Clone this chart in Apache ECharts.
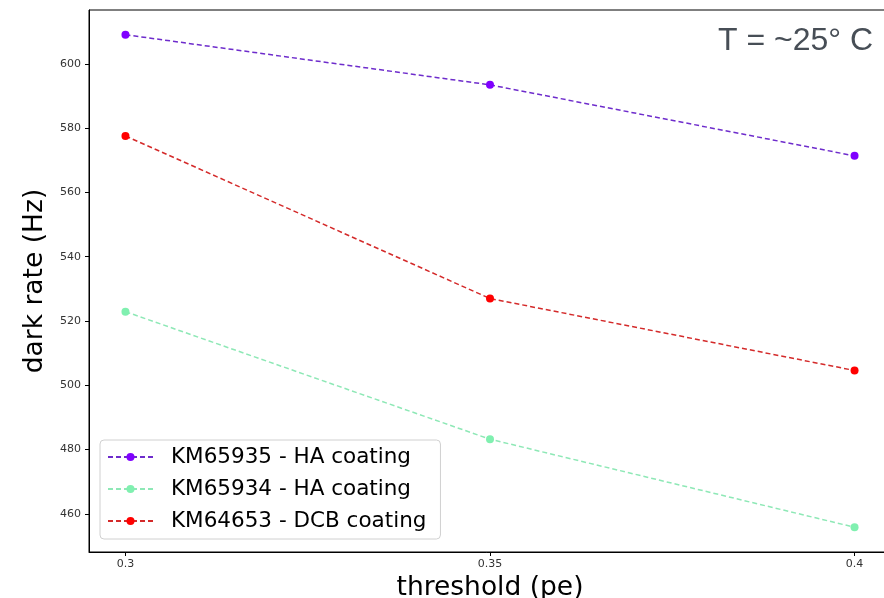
<!DOCTYPE html>
<html><head><meta charset="utf-8">
<script src="https://cdn.jsdelivr.net/npm/echarts@6/dist/echarts.min.js"></script>
<style>html,body{margin:0;padding:0;background:#fff}#c{width:884px;height:598px}</style>
</head><body><div id="c"></div>
<script>
var thresholds = [0.3, 0.35, 0.4];
var xTicks = [0.3, 0.35, 0.4];
var yTicks = [460, 480, 500, 520, 540, 560, 580, 600];
var seriesNames = ['KM65935 - HA coating', 'KM65934 - HA coating', 'KM64653 - DCB coating'];
var km65935 = [609.1, 593.5, 571.4];
var km65934 = [522.9, 483.2, 455.8];
var km64653 = [577.6, 527.0, 504.6];
var colors = ['#8000ff', '#80f0b0', '#ff0000'];
var lineColors = ['#6e2ccc', '#8ee8b6', '#d42a2a'];

var data = [km65935, km65934, km64653];
var chart = echarts.init(document.getElementById('c'));
var F = 'DejaVu Sans';
chart.setOption({
  animation: false,
  grid: {left: 89, top: 10, width: 802, height: 542, outerBoundsMode: 'none', containLabel: false,
         show: true, borderColor: '#000', borderWidth: 1},
  xAxis: {
    type: 'value', min: 0.295, max: 0.405,
    name: 'threshold (pe)', nameLocation: 'middle', nameGap: 18,
    nameTextStyle: {fontFamily: F, fontSize: 26.5, color: '#000', verticalAlign: 'top'},
    axisLine: {show: true, onZero: false, lineStyle: {color: '#000'}},
    axisTick: {show: true, length: 4, customValues: xTicks, lineStyle: {color: '#000'}},
    axisLabel: {customValues: xTicks, fontFamily: F, fontSize: 11, color: '#333', margin: 7},
    splitLine: {show: false}
  },
  yAxis: {
    type: 'value', min: 448.1, max: 616.8,
    name: 'dark rate (Hz)', nameLocation: 'middle', nameGap: 33,
    nameTextStyle: {fontFamily: F, fontSize: 26.5, color: '#000'},
    axisLine: {show: true, onZero: false, lineStyle: {color: '#000'}},
    axisTick: {show: true, length: 4, customValues: yTicks, lineStyle: {color: '#000'}},
    axisLabel: {customValues: yTicks, fontFamily: F, fontSize: 11, color: '#333', margin: 8},
    splitLine: {show: false}
  },
  legend: {
    left: 100, top: 440, orient: 'vertical', itemGap: 8, itemWidth: 45, itemHeight: 10,
    padding: [5, 14, 6, 7],
    backgroundColor: '#fff', borderColor: '#d0d0d0', borderWidth: 1, borderRadius: 4,
    textStyle: {fontFamily: F, fontSize: 21.5, lineHeight: 24, color: '#000', padding: [0, 0, 0, 13]},
    data: seriesNames
  },
  graphic: [{
    type: 'text', left: 718, top: 25,
    style: {text: 'T = ~25° C', font: '32px "Liberation Sans"', fill: '#474e56'}
  }],
  series: seriesNames.map(function (n, i) {
    return {
      name: n, type: 'line',
      data: thresholds.map(function (x, j) { return [x, data[i][j]]; }),
      symbol: 'circle', symbolSize: 8,
      itemStyle: {color: colors[i]},
      lineStyle: {color: lineColors[i], width: 1.5, type: [5, 3]}
    };
  })
});
</script></body></html>
